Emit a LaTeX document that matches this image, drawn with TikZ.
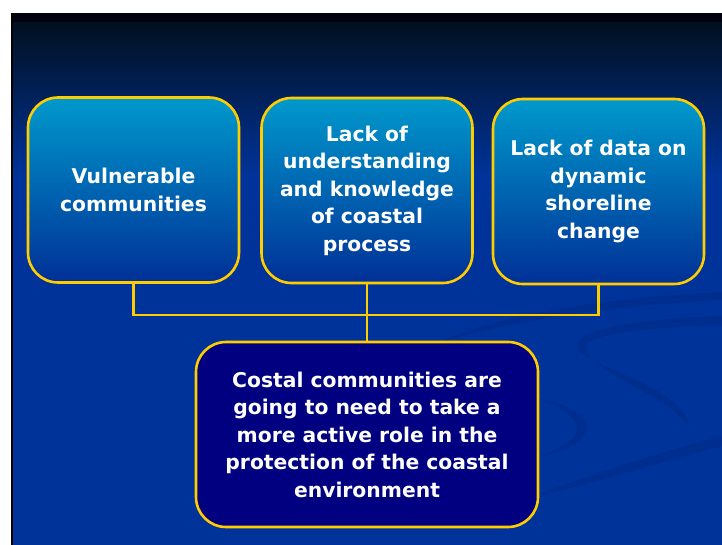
\documentclass[tikz,border=0pt]{standalone}
\usepackage{fontspec}
\setmainfont{DejaVu Sans}
\definecolor{bgblue}{RGB}{0,51,153}
\definecolor{bgtop}{RGB}{1,3,16}
\definecolor{bgdark}{RGB}{2,16,32}
\definecolor{boxtop}{RGB}{0,153,204}
\definecolor{boxbot}{RGB}{0,48,150}
\definecolor{navybox}{RGB}{0,0,128}
\definecolor{boxline}{RGB}{255,204,0}
\definecolor{swooshc}{RGB}{0,46,143}
\begin{document}
\begin{tikzpicture}[x=1pt,y=-1pt,
  box/.style={draw=boxline, line width=2.6pt, rounded corners=30pt, text=white, align=center,
    font=\bfseries\fontsize{20.3}{27.5}\selectfont, inner sep=0pt},
  upper/.style={box, top color=boxtop, bottom color=boxbot, minimum width=211pt, minimum height=185pt},
  lower/.style={box, fill=navybox, minimum width=342pt, minimum height=185pt},
  link/.style={draw=boxline, line width=2.2pt},
  swoosh/.style={fill=swooshc}
]
\useasboundingbox (0,0) rectangle (722,545);
\fill[white] (0,0) rectangle (722,545);
% background
\fill[bgtop] (12,13) rectangle (722,23);
\shade[top color=bgdark, bottom color=bgblue] (12,23) rectangle (722,175);
\fill[bgblue] (12,175) rectangle (722,545);
\fill[black] (11,13) rectangle (12.6,545);
% decorative swooshes
\path[swoosh] (430,346) .. controls (500,312) and (610,298) .. (722,292)
  -- (722,300) .. controls (610,306) and (500,322) .. (430,346) -- cycle;
\path[swoosh] (722,316) .. controls (640,318) and (575,330) .. (577,346)
  .. controls (580,368) and (680,380) .. (690,428)
  .. controls (670,395) and (588,372) .. (586,348)
  .. controls (585,334) and (650,326) .. (722,326) -- cycle;
\path[swoosh] (520,500) .. controls (600,472) and (660,452) .. (722,436)
  -- (722,446) .. controls (660,462) and (600,482) .. (520,500) -- cycle;
\path[swoosh] (536,398) .. controls (575,405) and (592,420) .. (586,432)
  .. controls (580,446) and (560,452) .. (536,458)
  .. controls (560,448) and (576,440) .. (577,430)
  .. controls (578,418) and (560,406) .. (536,398) -- cycle;
% boxes
\node[upper] (b1) at (133.5,190) {Vulnerable\\communities};
\node[upper] (b2) at (367,190.5) {Lack of\\understanding\\and knowledge\\of coastal\\process};
\node[upper] (b3) at (598.5,191.5) {Lack of data on\\dynamic\\shoreline\\change};
\node[lower] (b4) at (367,434.5) {Costal communities are\\going to need to take a\\more active role in the\\protection of the coastal\\environment};
% connectors
\coordinate (hl) at (0,315);
\draw[link] (b1.south) |- (b3.south |- hl) -- (b3.south);
\draw[link] (b2.south) -- (b4.north);
\end{tikzpicture}
\end{document}
